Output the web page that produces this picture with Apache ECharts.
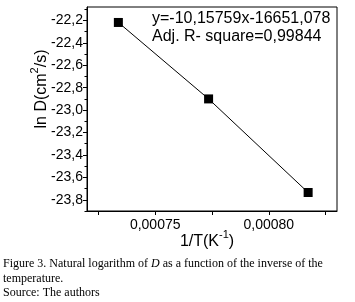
<!DOCTYPE html>
<html>
<head>
<meta charset="utf-8">
<script src="https://cdn.jsdelivr.net/npm/echarts@6/dist/echarts.min.js"></script>
<style>
html,body{margin:0;padding:0;background:#fff;}
#c{width:355px;height:302px;}
</style>
</head>
<body>
<div id="c"></div>
<script>
const invT = [0.0007338, 0.0007735, 0.0008173];
const lnD = [-22.218, -22.900, -23.735];
const yMajorTicks = [-23.8, -23.6, -23.4, -23.2, -23.0, -22.8, -22.6, -22.4, -22.2];
const yMinorTicks = [-23.9, -23.7, -23.5, -23.3, -23.1, -22.9, -22.7, -22.5, -22.3, -22.1];
const xMajorTicks = [0.00075, 0.00080];
const xMinorTicks = [0.000725, 0.000775, 0.000825];
const fitText = ['y=-10,15759x-16651,078', 'Adj. R- square=0,99844'];
const captionLines = ['Figure 3. Natural logarithm of ', 'D', ' as a function of the inverse of the', 'temperature.', 'Source: The authors'];

const chart = echarts.init(document.getElementById('c'), null, {renderer: 'canvas'});
const F = 'Liberation Sans, Arial, sans-serif';
const SERIF = 'Liberation Serif, Times New Roman, serif';
const fmtY = v => v.toFixed(1).replace('.', ',');
const fmtX = v => v.toFixed(5).replace('.', ',');

chart.setOption({
  animation: false,
  backgroundColor: '#fff',
  grid: {left: 87, right: 18, top: 7, bottom: 91, show: true, borderColor: '#000', borderWidth: 1, backgroundColor: 'transparent'},
  xAxis: [{
    type: 'value', min: 0.00072, max: 0.00083,
    axisLine: {show: true, onZero: false, lineStyle: {color: '#000', width: 1}},
    axisTick: {show: true, inside: false, length: 4, customValues: xMajorTicks.concat(xMinorTicks), lineStyle: {color: '#000'}},
    axisLabel: {show: true, customValues: xMajorTicks, formatter: fmtX, color: '#000', fontFamily: F, fontSize: 14, margin: 7},
    splitLine: {show: false}
  }],
  yAxis: [{
    type: 'value', min: -23.9, max: -22.08,
    axisLine: {show: true, onZero: false, lineStyle: {color: '#000', width: 1}},
    axisTick: {show: true, inside: false, length: 4, customValues: yMajorTicks, lineStyle: {color: '#000'}},
    axisLabel: {show: true, customValues: yMajorTicks, formatter: fmtY, color: '#000', fontFamily: F, fontSize: 14, margin: 4},
    splitLine: {show: false}
  }, {
    type: 'value', min: -23.9, max: -22.08, position: 'left',
    axisLine: {show: false},
    axisTick: {show: true, inside: false, length: 2.5, customValues: yMinorTicks, lineStyle: {color: '#000'}},
    axisLabel: {show: false},
    splitLine: {show: false}
  }],
  series: [{
    type: 'line',
    data: invT.map((x, i) => [x, lnD[i]]),
    symbol: 'rect', symbolSize: 9,
    itemStyle: {color: '#000'},
    lineStyle: {color: '#000', width: 1},
    z: 5
  }],
  graphic: [
    {type: 'text', left: 152, top: 11, style: {text: fitText[0], font: '16px ' + F, fill: '#000'}},
    {type: 'text', left: 152, top: 29, style: {text: fitText[1], font: '16px ' + F, fill: '#000'}},
    {type: 'text', x: 42, y: 89, rotation: Math.PI / 2,
      style: {text: '{a|ln D(cm}{s|2}{a|/s)}', align: 'center', verticalAlign: 'middle',
        rich: {a: {fontSize: 16, fontFamily: F, color: '#000', lineHeight: 26},
               s: {fontSize: 11, fontFamily: F, color: '#000', verticalAlign: 'top', lineHeight: 11}}}},
    {type: 'text', x: 207, y: 242,
      style: {text: '{a|1/T(K}{s|-1}{a|)}', align: 'center', verticalAlign: 'middle',
        rich: {a: {fontSize: 16, fontFamily: F, color: '#000', lineHeight: 26},
               s: {fontSize: 11, fontFamily: F, color: '#000', verticalAlign: 'top', lineHeight: 11}}}},
    {type: 'text', left: 3, top: 258,
      style: {text: '{r|' + captionLines[0] + '}{i|' + captionLines[1] + '}{r|' + captionLines[2] + '}',
        rich: {r: {fontSize: 12, fontFamily: SERIF, color: '#000'},
               i: {fontSize: 12, fontFamily: SERIF, fontStyle: 'italic', color: '#000'}}}},
    {type: 'text', left: 3, top: 273, style: {text: captionLines[3], font: '12px ' + SERIF, fill: '#000'}},
    {type: 'text', left: 3, top: 287, style: {text: captionLines[4], font: '12px ' + SERIF, fill: '#000'}}
  ]
});
</script>
</body>
</html>
